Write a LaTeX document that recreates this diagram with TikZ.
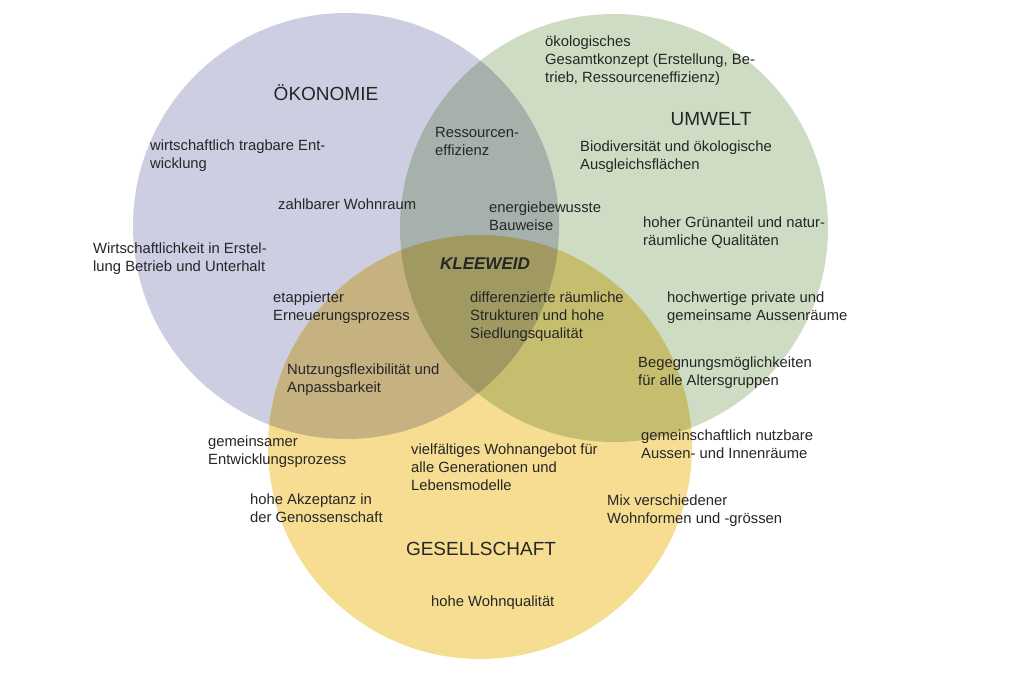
\documentclass[tikz,border=0pt]{standalone}
\usepackage{fontspec}
\setmainfont{Liberation Sans}
\begin{document}
\begin{tikzpicture}[x=1pt,y=-1pt,
  t/.style={anchor=north west,align=left,font=\fontsize{14.8}{18}\selectfont,inner sep=0pt,text=black!85},
  h/.style={font=\fontsize{19}{22}\selectfont,inner sep=0pt,text=black!85}]
\useasboundingbox (0,0) rectangle (1024,683);
\fill[white] (0,0) rectangle (1024,683);
\begin{scope}[blend mode=multiply]
\fill[fill={rgb,255:red,206;green,206;blue,226}] (346,226) circle (213);
\fill[fill={rgb,255:red,206;green,220;blue,195}] (614,228) circle (214);
\fill[fill={rgb,255:red,246;green,221;blue,146}] (480,447) circle (212);
\end{scope}
\node[h] (ok) at (326,93) {ÖKONOMIE};
\node[h] (um) at (711,119) {UMWELT};
\node[h] (ge) at (481,549) {GESELLSCHAFT};
\node[h,font=\fontsize{17}{20}\selectfont\bfseries\itshape] (kl) at (485,264) {KLEEWEID};
\node[t] (a1) at (545,36) {ökologisches\\Gesamtkonzept (Erstellung, Be-\\trieb, Ressourceneffizienz)};
\node[t] (a2) at (150,140) {wirtschaftlich tragbare Ent-\\wicklung};
\node[t] (a3) at (435,127) {Ressourcen-\\effizienz};
\node[t] (a4) at (580,141) {Biodiversität und ökologische\\Ausgleichsflächen};
\node[t] (a5) at (278,199) {zahlbarer Wohnraum};
\node[t] (a6) at (489,202) {energiebewusste\\Bauweise};
\node[t] (a7) at (643,217) {hoher Grünanteil und natur-\\räumliche Qualitäten};
\node[t] (a8) at (93,243) {Wirtschaftlichkeit in Erstel-\\lung Betrieb und Unterhalt};
\node[t] (a9) at (273,292) {etappierter\\Erneuerungsprozess};
\node[t] (a10) at (470,292) {differenzierte räumliche\\Strukturen und hohe\\Siedlungsqualität};
\node[t] (a11) at (667,292) {hochwertige private und\\gemeinsame Aussenräume};
\node[t] (a12) at (638,357) {Begegnungsmöglichkeiten\\für alle Altersgruppen};
\node[t] (a13) at (287,364) {Nutzungsflexibilität und\\Anpassbarkeit};
\node[t] (a14) at (208,436) {gemeinsamer\\Entwicklungsprozess};
\node[t] (a15) at (411,444) {vielfältiges Wohnangebot für\\alle Generationen und\\Lebensmodelle};
\node[t] (a16) at (641,430) {gemeinschaftlich nutzbare\\Aussen- und Innenräume};
\node[t] (a17) at (250,494) {hohe Akzeptanz in\\der Genossenschaft};
\node[t] (a18) at (607,495) {Mix verschiedener\\Wohnformen und -grössen};
\node[t] (a19) at (431,596) {hohe Wohnqualität};
\end{tikzpicture}
\end{document}
